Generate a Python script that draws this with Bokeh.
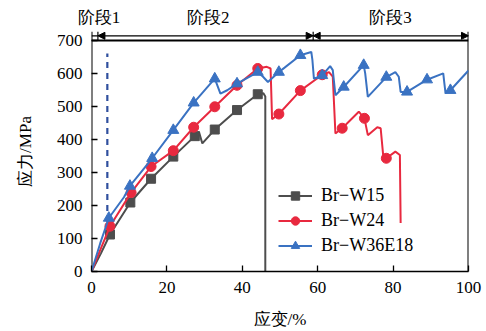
from bokeh.plotting import figure
from bokeh.layouts import column
from bokeh.models import (Range1d, FixedTicker, Legend, LegendItem, Arrow,
                          NormalHead, LinearAxis)
from bokeh.embed import file_html
from bokeh.resources import INLINE

# ---------------- data ----------------
x_ticks = [0, 20, 40, 60, 80, 100]
y_ticks = [0, 100, 200, 300, 400, 500, 600, 700]

# Br-W15 (line and marker points)
w15_x = [0, 2.5, 4.9, 10.3, 15.8, 21.7, 27.4, 28.5, 29.4, 32.7, 38.6, 44.1, 45.6, 46.1, 46.1]
w15_y = [0, 55, 112, 209, 281, 348, 410, 423, 388, 430, 489, 537, 540, 530, 0]
w15_mx = [4.9, 10.3, 15.8, 21.7, 27.4, 32.7, 38.6, 44.1]
w15_my = [112, 209, 281, 348, 410, 430, 489, 537]

# Br-W24
w24_x = [0, 2.5, 4.9, 10.5, 15.8, 21.7, 27.1, 32.7, 38.6, 44.1, 46.5, 47.5, 47.9, 49.7,
         55.4, 61.2, 63.0, 64.0, 64.7, 66.5, 70.9, 72.4, 73.3, 75.8, 76.7, 77.4, 78.2,
         80.6, 81.8, 82.0]
w24_y = [0, 70, 137, 239, 318, 366, 437, 499, 564, 615, 620, 615, 461, 477,
         548, 596, 604, 590, 418, 434, 484, 464, 413, 437, 434, 348, 343,
         363, 353, 147]
w24_mx = [4.9, 10.5, 15.8, 21.7, 27.1, 32.7, 38.6, 44.1, 49.7, 55.4, 61.2, 66.5, 72.4, 78.2]
w24_my = [137, 239, 318, 366, 437, 499, 564, 615, 477, 548, 596, 434, 464, 343]

# Br-W36E18
w36_x = [0, 2.3, 4.6, 8.6, 10.2, 16.1, 21.7, 27.1, 32.7, 33.5, 34.2, 36.0, 38.6, 44.1,
         45.5, 46.8, 49.7, 55.4, 58.3, 58.6, 59.0, 61.2, 63.3, 64.0, 64.7, 66.9, 72.2,
         72.6, 73.3, 78.2, 80.6, 81.5, 82.0, 83.7, 89.0, 93.3, 93.6, 93.9, 95.2, 100]
w36_y = [0, 85, 162, 225, 259, 343, 428, 511, 584, 560, 539, 549, 569, 604,
         590, 574, 604, 655, 665, 640, 584, 594, 622, 610, 534, 559, 625,
         600, 529, 589, 604, 590, 544, 544, 581, 600, 570, 541, 549, 609]
w36_mx = [4.6, 10.2, 16.1, 21.7, 27.1, 32.7, 38.6, 44.1, 49.7, 55.4, 61.2, 66.9, 72.2,
          78.2, 83.7, 89.0, 95.2]
w36_my = [162, 259, 343, 428, 511, 584, 569, 604, 604, 655, 594, 559, 625,
          589, 544, 581, 549]

series_names = ["Br\u2212W15", "Br\u2212W24", "Br\u2212W36E18"]

stage_bounds = [0, 1.7, 58.8, 100]
stage_labels = ["阶段1", "阶段2", "阶段3"]
stage_label_x = [2.0, 31.0, 79.3]

dash_x = 4.2
dash_y = [150, 660]

# ---------------- styling ----------------
FONT = "Liberation Serif"
GRAY = "#4d4d4d"
RED = "#e8293f"
BLUE = "#3a72c2"
DASH_BLUE = "#2f4f9e"

W = 486
LEFT, RIGHT = 91, 18

# ---------- top strip: stage names as an axis above ----------
top = figure(width=W, height=31, output_backend="svg", toolbar_location=None,
             x_range=Range1d(0, 100), y_range=Range1d(0, 1),
             min_border_left=LEFT, min_border_right=RIGHT, min_border_top=30,
             min_border_bottom=0, x_axis_type=None, y_axis_type=None)
top.outline_line_color = None
top.grid.visible = False
stage_axis = LinearAxis(ticker=FixedTicker(ticks=stage_label_x),
                        major_label_overrides={x: t for x, t in zip(stage_label_x, stage_labels)},
                        axis_line_color=None, major_tick_line_color=None,
                        minor_tick_line_color=None, major_tick_in=0, major_tick_out=0,
                        major_label_standoff=4, major_label_text_font=FONT,
                        major_label_text_font_size="17px",
                        major_label_text_color="black")
top.add_layout(stage_axis, "above")

# ---------- main chart ----------
top_y = 727
p = figure(width=W, height=300, x_range=Range1d(0, 100), y_range=Range1d(0, top_y),
           output_backend="svg", toolbar_location=None,
           min_border_left=LEFT, min_border_right=RIGHT, min_border_top=0,
           min_border_bottom=59)
p.outline_line_color = None
p.grid.visible = False

p.xaxis.ticker = FixedTicker(ticks=x_ticks)
p.yaxis.ticker = FixedTicker(ticks=y_ticks)
for ax in (p.xaxis[0], p.yaxis[0]):
    ax.major_tick_in = 6
    ax.major_tick_out = 0
    ax.minor_tick_line_color = None
    ax.major_tick_line_color = "black"
    ax.major_tick_line_width = 1.3
    ax.major_label_text_font = FONT
    ax.major_label_text_font_size = "17px"
    ax.major_label_text_color = "black"
    ax.axis_label_text_font = FONT
    ax.axis_label_text_font_size = "17px"
    ax.axis_label_text_font_style = "normal"
    ax.axis_label_text_color = "black"
p.xaxis.axis_line_color = "black"
p.xaxis.axis_line_width = 1.5
p.yaxis.axis_line_color = None
p.xaxis.axis_label = "应变/%"
p.yaxis.axis_label = "应力/MPa"
p.xaxis.major_label_standoff = 10
p.xaxis.axis_label_standoff = 14
p.yaxis.major_label_standoff = 9
p.yaxis.axis_label_standoff = 19

# frame lines: left & right run up to the stage strip, top border at 700
p.segment(x0=[0, 100, 0], y0=[0, 0, 700], x1=[0, 100, 100], y1=[top_y, top_y, 700],
          line_color="black", line_width=2)
# stage boundary ticks
p.segment(x0=stage_bounds[1:3], y0=[700, 700], x1=stage_bounds[1:3], y1=[top_y, top_y],
          line_color="black", line_width=1.2)
# stage arrows
arrow_y = 714
p.segment(x0=[stage_bounds[0]], y0=[arrow_y], x1=[stage_bounds[1]], y1=[arrow_y],
          line_color="black", line_width=1.2)
for a, b in [(stage_bounds[1], stage_bounds[2]), (stage_bounds[2], stage_bounds[3])]:
    p.add_layout(Arrow(x_start=a, y_start=arrow_y, x_end=b, y_end=arrow_y,
                       line_color="black", line_width=1.2,
                       start=NormalHead(size=7, fill_color="black", line_color="black"),
                       end=NormalHead(size=7, fill_color="black", line_color="black")))

# dashed marker line
p.line(x=[dash_x, dash_x], y=dash_y, line_color=DASH_BLUE, line_width=2.2,
       line_dash="6 5")

# series
items = []
specs = [(w15_x, w15_y, w15_mx, w15_my, GRAY, "square", 9),
         (w24_x, w24_y, w24_mx, w24_my, RED, "circle", 10),
         (w36_x, w36_y, w36_mx, w36_my, BLUE, "triangle", 11)]
for name, (lx, ly, mx, my, col, mk, sz) in zip(series_names, specs):
    r1 = p.line(x=lx, y=ly, line_color=col, line_width=2)
    r2 = p.scatter(x=mx, y=my, marker=mk, size=sz, fill_color=col, line_color=col)
    items.append(LegendItem(label=name, renderers=[r1, r2]))

legend = Legend(items=items, location=(187, 15), border_line_color=None,
                background_fill_alpha=0, padding=0, margin=0, spacing=4,
                glyph_width=34, glyph_height=21, label_height=21,
                label_standoff=9, label_text_font=FONT,
                label_text_font_size="18px", label_text_color="black")
p.add_layout(legend)

layout = column(top, p, spacing=0)
open("out.html", "w").write(file_html(layout, INLINE))
